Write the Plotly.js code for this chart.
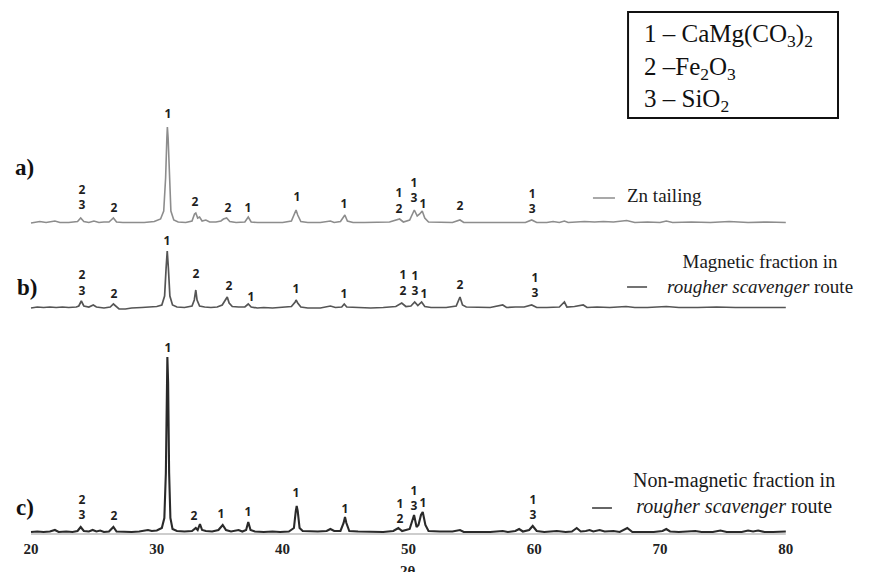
<!DOCTYPE html>
<html>
<head>
<meta charset="utf-8">
<script src="https://cdn.plot.ly/plotly-3.0.1.min.js"></script>
<style>html,body{margin:0;padding:0;background:#fff}#chart{width:875px;height:572px}</style>
</head>
<body>
<div id="chart"></div>
<script>
// ---- Data: 2θ positions and intensities (above each pattern's own baseline) ----
const xA = [20,20.7,21.2,21.9,22.3,23,23.7,23.95,24.2,24.6,25.0,25.4,25.8,26.2,26.55,26.8,27.3,28,29,29.8,30.3,30.55,30.7,30.8,30.84,30.9,31.0,31.12,31.35,31.7,32.3,32.8,33.0,33.1,33.25,33.4,33.6,33.9,34.2,34.7,35.1,35.3,35.55,35.8,36.3,37.0,37.27,37.5,38,39,40,40.7,40.95,41.07,41.2,41.45,42,43,43.8,44.1,44.6,44.85,44.95,45.15,45.6,46.5,47.5,48.5,49.3,49.6,50.1,50.35,50.47,50.7,50.9,51.1,51.3,51.6,52.5,53.5,54.1,54.4,55.5,56.5,57.5,58.5,59.3,59.8,60.2,61.0,61.5,62.0,62.4,62.7,63.3,64,64.8,65.5,66.3,67.35,68,69,70.0,70.5,71,72.5,74,75.5,77,78.5,80];
const yA = [0,1.5,0.5,2,0.5,0.5,1.5,5,1.5,0.5,2,0.5,1,1,5,1,0.5,0.5,0.5,1.5,4,12,45,85,96,85,45,12,3,1,0.5,2,9,10,5,6,2,3,1,1,2,4,5,1.5,0.5,1,6,1,0.5,0.5,0.5,2,10,13,8,1.5,0.5,0.5,2,0.5,1.5,7,8,2,0.5,0.5,0.5,1,4,1,3,11,13,7,9,12,5,1,0.5,0.5,3,0.5,0.5,0.5,1,1,0.5,3,0.5,0.5,1.5,0.5,2,0.5,1,1.5,1,1.5,1,2.5,0.5,1,0.5,2,0.5,1,0.5,1.5,0.5,1,0.5];

const xB = [20,20.5,21,21.5,22,22.5,23,23.6,23.8,24.0,24.2,24.6,24.95,25.2,25.8,26.3,26.55,26.8,27,27.5,28,28.8,29.5,30,30.4,30.62,30.74,30.83,30.92,31.04,31.25,31.6,32.2,32.8,32.98,33.1,33.2,33.4,33.8,34.3,34.8,35.2,35.45,35.6,35.75,36.0,36.5,37.0,37.27,37.5,38,38.5,39.2,40,40.7,41.0,41.07,41.2,41.45,42,43,43.8,44.2,44.7,44.9,45.1,46,47,48,49,49.47,49.8,50.2,50.5,50.75,51.05,51.3,51.8,53,53.8,54.1,54.3,54.6,55.5,56.5,57.5,57.8,58.5,59.2,59.8,60.2,61,62.0,62.4,62.6,63.2,63.9,64.2,65,66,67.3,68,69,70.5,71.5,73,74.5,76,78,80];
const yB = [0,1,0.5,1,0.5,1,0.5,1,2,7,2,1,3,1,0,1,4,1,-1,-1,0,0.5,1,1.5,3,12,40,57,40,12,3,1,0.5,2,8,18,8,2,1,0.5,1,3,8,11,5,1.5,1,1,4,1,0,0.5,0,0.5,1.5,6,8,5,1,0,0,2,0.5,1,4,1,0.5,0,0.5,1.5,5,1.5,2,6,2.5,6,1.5,0.5,0.5,2,11,3,1,0.5,0.5,3,0.5,1,1,3,0.5,0.5,1,6,1,1.5,3,0.5,1,0.5,1.5,0.5,0.5,1.5,0.5,0.5,1,0.5,0.5,0.5];

const xC = [20.0,20.5,21.0,21.5,21.9,22.2,22.8,23.3,23.7,23.95,24.2,24.6,24.9,25.2,25.5,25.8,26.2,26.55,26.8,27.3,28,28.6,29.0,29.3,29.6,30.0,30.4,30.6,30.72,30.8,30.84,30.9,30.98,31.08,31.25,31.6,32.2,32.8,33.1,33.25,33.43,33.6,33.9,34.4,34.9,35.24,35.5,35.9,36.5,36.8,37.1,37.27,37.45,37.8,38.5,39.2,39.8,40.5,40.9,41.05,41.12,41.2,41.35,41.6,42.2,42.8,43.5,43.8,44.1,44.6,44.85,44.96,45.07,45.3,46,47,48,48.8,49.2,49.5,50.1,50.3,50.45,50.65,50.8,51.0,51.14,51.35,51.6,52.5,53.5,54.1,54.4,55.5,56.5,57.5,57.9,58.5,58.8,59.1,59.6,59.88,60.2,60.8,61.8,62.5,63.0,63.38,63.7,64.1,64.4,64.7,65.2,65.6,66.3,66.8,67.4,67.8,68.5,69.5,70.2,70.5,70.8,71.5,72.8,73.3,74.2,74.8,75.3,76.5,77.0,77.4,77.8,78.3,79,80];
const yC = [1,1.5,1,1.5,3,1,1.5,1,2,6,2,1.5,3,1.5,2.5,1,1.5,6,1.5,1,1,1.5,2,3,2,2.5,5,15,60,150,176,150,60,15,4,2,1.5,2,5,3,9,3,2,1.5,3,8,3,1.5,3,1.5,3,11,3,1.5,1,1.5,1,1.5,5,22,27,22,5,2,1.5,1.5,2,4,2,2,10,16,10,2,1.5,1.5,1,2,5,2,4,12,18,6,8,18,21,8,2,1.5,1.5,3,1,1,1,2,1,2,4,1.5,3,7,2,1,2,1,1.5,5,1.5,2,3,1.5,3,1.5,2,1,5,1,1,1,2,4,1.5,1,2,1,1,2.5,1,1,2.5,1.5,2.5,1,1,1.5];

// peak labels: 1 – CaMg(CO3)2, 2 – Fe2O3, 3 – SiO2
const labA_x = [24.05,26.6,30.89,33.04,35.66,37.25,41.14,44.88,49.25,50.45,51.16,54.1,59.83];
const labA_t = ["2<br>3","2","1","2","2","1","1","1","1<br>2","1<br>3","1","2","1<br>3"];
const labA_h = [24.5,14,108,20,14,14,25,18,21,31.5,18,16,20.5];

const labB_x = [24.05,26.6,30.81,33.12,35.74,37.49,41.07,44.88,49.57,50.52,51.24,54.1,60.06];
const labB_t = ["2<br>3","2","1","2","2","1","1","1","1<br>2","1<br>3","1","2","1<br>3"];
const labB_h = [23.8,13,66.3,33,21.3,10,18,13,23.8,23.3,13,22.3,21.5];

const labC_x = [24.05,26.6,30.89,32.96,35.1,37.25,41.07,44.96,49.33,50.45,51.16,59.9];
const labC_t = ["2<br>3","2","1","2","1","1","1","1","1<br>2","1<br>3","1","1<br>3"];
const labC_h = [24.3,16,184,16,18,20.3,39,23,20.6,33.5,29,24.6];

const tickVals = [20,30,40,50,60,70,80];
const tickText = ["20","30","40","50","60","70","80"];

// ---- vertical stacking offsets of the three patterns ----
const offA = 310, offB = 225, offC = 0;
const shift = (arr, off) => arr.map(v => v + off);

const serif = "Liberation Serif, Times New Roman, serif";
const sans = "Open Sans, Liberation Sans, sans-serif";

function pattern(x, y, off, color, w) {
  return {x: x, y: shift(y, off), type: 'scatter', mode: 'lines',
          line: {color: color, width: w, shape: 'linear'}, hoverinfo: 'skip', showlegend: false};
}
function labels(x, t, h, off) {
  return {x: x, y: shift(h, off), text: t, type: 'scatter', mode: 'text',
          textposition: 'middle center', cliponaxis: false,
          textfont: {family: sans, size: 12, color: '#1e1e1e', weight: 'bold'},
          hoverinfo: 'skip', showlegend: false};
}

const data = [
  pattern(xA, yA, offA, '#8d8d8d', 1.6),
  pattern(xB, yB, offB, '#555555', 1.7),
  pattern(xC, yC, offC, '#2a2a2a', 2.1),
  labels(labA_x, labA_t, labA_h, offA),
  labels(labB_x, labB_t, labB_h, offB),
  labels(labC_x, labC_t, labC_h, offC)
];

const layout = {
  width: 875, height: 572,
  margin: {l: 0, r: 0, t: 0, b: 34, pad: 0},
  paper_bgcolor: '#ffffff', plot_bgcolor: '#ffffff',
  showlegend: false,
  xaxis: {range: [17.536, 87.09], tickvals: tickVals, ticktext: tickText,
          showgrid: false, zeroline: false, showline: false, ticks: '',
          tickfont: {family: serif, size: 15, color: '#222', weight: 'bold'}},
  yaxis: {range: [-5, 533], visible: false, showgrid: false, zeroline: false},
  shapes: [
    {type: 'line', xref: 'x', yref: 'y', x0: xC[0], x1: xC[xC.length-1], y0: offC - 1, y1: offC - 1,
     line: {color: '#bdbdbd', width: 1.5}, layer: 'below'},
    {type: 'rect', xref: 'x', yref: 'y', x0: 67.46, x1: 84.15, y0: 415, y1: 521,
     line: {color: '#111', width: 2}, fillcolor: 'rgba(0,0,0,0)'},
    {type: 'line', xref: 'x', yref: 'y', x0: 64.67, x1: 66.42, y0: 335, y1: 335, line: {color: '#8d8d8d', width: 1.5}},
    {type: 'line', xref: 'x', yref: 'y', x0: 67.38, x1: 68.97, y0: 246, y1: 246, line: {color: '#444', width: 1.5}},
    {type: 'line', xref: 'x', yref: 'y', x0: 64.6, x1: 66.18, y0: 25, y1: 25, line: {color: '#333', width: 1.5}}
  ],
  annotations: [
    {xref: 'x', yref: 'y', x: 68.57, y: 465.5, xanchor: 'left', yanchor: 'middle', align: 'left', showarrow: false,
     text: '1 – CaMg(CO<sub>3</sub>)<sub>2</sub><br>2 –Fe<sub>2</sub>O<sub>3</sub><br>3 – SiO<sub>2</sub>',
     font: {family: serif, size: 25, color: '#111'}},
    {xref: 'x', yref: 'y', x: 67.22, y: 338, xanchor: 'left', yanchor: 'middle', showarrow: false,
     text: 'Zn tailing', font: {family: serif, size: 19, color: '#1a1a1a'}},
    {xref: 'x', yref: 'y', x: 77.95, y: 259.5, xanchor: 'center', yanchor: 'middle', align: 'center', showarrow: false,
     text: 'Magnetic fraction in<br><i>rougher scavenger</i> route', font: {family: serif, size: 19, color: '#1a1a1a'}},
    {xref: 'x', yref: 'y', x: 75.88, y: 39.7, xanchor: 'center', yanchor: 'middle', align: 'center', showarrow: false,
     text: 'Non-magnetic fraction in<br><i>rougher scavenger</i> route', font: {family: serif, size: 20, color: '#1a1a1a'}},
    {xref: 'x', yref: 'y', x: 19.52, y: 366, xanchor: 'center', yanchor: 'middle', showarrow: false,
     text: 'a)', font: {family: serif, size: 23, color: '#111', weight: 'bold'}},
    {xref: 'x', yref: 'y', x: 19.68, y: 246, xanchor: 'center', yanchor: 'middle', showarrow: false,
     text: 'b)', font: {family: serif, size: 23, color: '#111', weight: 'bold'}},
    {xref: 'x', yref: 'y', x: 19.52, y: 26, xanchor: 'center', yanchor: 'middle', showarrow: false,
     text: 'c)', font: {family: serif, size: 23, color: '#111', weight: 'bold'}},
    {xref: 'x', yref: 'paper', x: 50, y: -0.062, xanchor: 'center', yanchor: 'middle', showarrow: false,
     text: '2θ', font: {family: serif, size: 15, color: '#222', weight: 'bold'}}
  ]
};

Plotly.newPlot('chart', data, layout, {staticPlot: true, displayModeBar: false});
</script>
</body>
</html>
